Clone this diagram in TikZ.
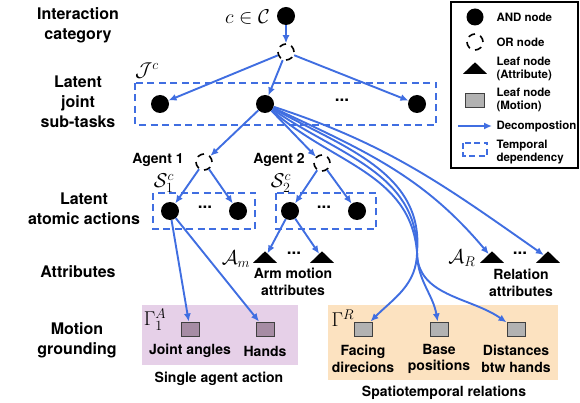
\RequirePackage{fix-cm}
\documentclass[tikz,border=0pt]{standalone}
\usepackage{fontspec}
\setmainfont{TeX Gyre Heros}
\usepackage{xcolor}
\usetikzlibrary{arrows.meta,shapes.geometric}

\definecolor{decblue}{RGB}{64,110,225}
\definecolor{agentbg}{RGB}{230,208,232}
\definecolor{relbg}{RGB}{252,226,192}
\definecolor{agentleaf}{RGB}{166,140,164}
\definecolor{relleaf}{RGB}{178,178,178}

\begin{document}
\begin{tikzpicture}[x=1pt,y=1pt,
    andnode/.style={circle, fill=black, inner sep=0pt, minimum size=18pt},
    ornode/.style={circle, draw=black, line width=1.6pt, dash pattern=on 7pt off 5.5pt,
                   inner sep=0pt, minimum size=16pt},
    attrnode/.style={isosceles triangle, isosceles triangle apex angle=92, shape border rotate=90,
                     fill=black, inner sep=0pt, minimum height=11.5pt},
    leafnode/.style={rectangle, draw=black!75, line width=1pt, inner sep=0pt,
                     minimum width=18pt, minimum height=14pt},
    deco/.style={draw=decblue, line width=1.9pt, -{Latex[length=8pt,width=7pt]}},
    tempdep/.style={draw=decblue, line width=1.7pt, dash pattern=on 7pt off 4.5pt},
    level/.style={font=\fontsize{16}{20}\selectfont\bfseries, align=center},
    txt/.style={font=\fontsize{14}{16.5}\selectfont\bfseries, align=center},
    dotsnode/.style={font=\fontsize{17}{17}\selectfont\bfseries, inner sep=0pt},
    lgd/.style={font=\fontsize{11.5}{13}\selectfont\bfseries, align=left, anchor=west},
    mth/.style={font=\fontsize{20}{22}\selectfont, inner sep=0pt}]

    \useasboundingbox (0,0) rectangle (580,-403);

    % coloured groups
    \fill[agentbg] (142,-305) rectangle (298,-365);
    \fill[relbg] (328,-305) rectangle (558,-380);

    % level names
    \node[level] (lvcat) at (78,-25) {Interaction\\category};
    \node[level] (lvjoint) at (78,-102) {Latent\\joint\\sub-tasks};
    \node[level] (lvatomic) at (84,-209) {Latent\\atomic actions};
    \node[level] (lvattr) at (78,-272) {Attributes};
    \node[level] (lvmotion) at (77,-340) {Motion\\grounding};

    % temporal dependency boxes
    \draw[tempdep] (135,-83) rectangle (436,-125);
    \draw[tempdep] (153,-193) rectangle (255,-229);
    \draw[tempdep] (276,-193) rectangle (376,-229);

    % category
    \node[andnode] (cat) at (286,-16) {};
    \node[mth, anchor=east] (catlbl) at (270,-17) {$c\in\mathcal{C}$};
    \node[ornode] (orC) at (286,-52) {};

    % joint sub-tasks
    \node[mth] (jlbl) at (147,-71) {$\mathcal{J}^c$};
    \node[andnode] (st1) at (160,-104) {};
    \node[andnode] (st2) at (265,-104) {};
    \node[dotsnode] (stdots) at (342,-100) {...};
    \node[andnode] (st4) at (417,-104) {};

    % agents
    \node[ornode] (or1) at (204,-162) {};
    \node[ornode] (or2) at (322,-163) {};
    \node[txt, inner sep=1pt] (ag1) at (158,-160) {Agent 1};
    \node[txt, inner sep=1pt] (ag2) at (279,-160) {Agent 2};
    \node[mth] (s1lbl) at (164,-183) {$\mathcal{S}^c_1$};
    \node[mth] (s2lbl) at (281,-183) {$\mathcal{S}^c_2$};

    % atomic actions
    \node[andnode] (a11) at (170,-211) {};
    \node[dotsnode] (a1dots) at (205,-207) {...};
    \node[andnode] (a12) at (238,-211) {};
    \node[andnode] (a21) at (290,-211) {};
    \node[dotsnode] (a2dots) at (324,-207) {...};
    \node[andnode] (a22) at (357,-211) {};

    % attributes
    \node[mth] (amlbl) at (236,-259) {$\mathcal{A}_m$};
    \node[attrnode] (am1) at (265,-258) {};
    \node[dotsnode] (amdots) at (294,-253) {...};
    \node[attrnode] (am2) at (322,-258) {};
    \node[txt] (amtxt) at (293,-282) {Arm motion\\attributes};
    \node[mth] (arlbl) at (462,-258) {$\mathcal{A}_R$};
    \node[attrnode] (ar1) at (492,-258) {};
    \node[dotsnode] (ardots) at (520,-253) {...};
    \node[attrnode] (ar2) at (548,-258) {};
    \node[txt] (artxt) at (521,-283) {Relation\\attributes};

    % motion grounding
    \node[mth] (galbl) at (155,-320) {$\Gamma^A_1$};
    \node[leafnode, fill=agentleaf] (joint) at (190,-329) {};
    \node[leafnode, fill=agentleaf] (hands) at (265,-329) {};
    \node[txt] (jointtxt) at (190,-351) {Joint angles};
    \node[txt] (handstxt) at (265,-351) {Hands};
    \node[txt] (singletxt) at (219,-379) {Single agent action};
    \node[mth] (grlbl) at (343,-318) {$\Gamma^R$};
    \node[leafnode, fill=relleaf] (facing) at (363,-329) {};
    \node[leafnode, fill=relleaf] (base) at (439,-329) {};
    \node[leafnode, fill=relleaf] (dist) at (516,-329) {};
    \node[txt] (facingtxt) at (363,-359) {Facing\\direcions};
    \node[txt] (basetxt) at (439,-359) {Base\\positions};
    \node[txt] (disttxt) at (516,-359) {Distances\\btw hands};
    \node[txt] (spatiotxt) at (444,-393) {Spatiotemporal relations};

    % decompositions
    \draw[deco] (cat) -- (orC);
    \draw[deco] (orC) -- (st1);
    \draw[deco] (orC) -- (st2);
    \draw[deco] (orC) -- (st4);
    \draw[deco] (st2) -- (or1);
    \draw[deco] (st2) -- (or2);
    \draw[deco] (or1) -- (a11);
    \draw[deco] (or1) -- (a12);
    \draw[deco] (or2) -- (a21);
    \draw[deco] (or2) -- (a22);
    \draw[deco] (a11) -- (joint);
    \draw[deco] (a11) -- (hands);
    \draw[deco] (a21) -- (am1);
    \draw[deco] (a21) -- (am2);
    \draw[deco] (st2) to[out=-18, in=145] (ar2);
    \draw[deco] (st2) to[out=-25, in=130] (ar1);
    \coordinate (merge) at (417,-252);
    \draw[deco] (st2) to[out=-42, in=95] (merge) to[out=-90, in=45] (facing);
    \draw[deco] (st2) to[out=-35, in=90] (merge) to[out=-90, in=100] (base);
    \draw[deco] (st2) to[out=-29, in=85] (merge) to[out=-90, in=145] (dist);

    % legend
    \draw[line width=1.4pt] (451,-2) rectangle (578,-168);
    \node[andnode, minimum size=17pt] (lgand) at (475,-17) {};
    \node[lgd] (lgandtxt) at (493,-17) {AND node};
    \node[ornode] (lgor) at (475,-42) {};
    \node[lgd] (lgortxt) at (493,-42) {OR node};
    \node[attrnode] (lgattr) at (475,-69) {};
    \node[lgd] (lgattrtxt) at (493,-69) {Leaf node\\(Attribute)};
    \node[leafnode, fill=relleaf, minimum width=19pt] (lgleaf) at (475,-101) {};
    \node[lgd] (lgleaftxt) at (493,-100) {Leaf node\\(Motion)};
    \coordinate (lgdecA) at (458,-126);
    \coordinate (lgdecB) at (492,-126);
    \draw[deco] (lgdecA) -- (lgdecB);
    \node[lgd] (lgdectxt) at (493,-126) {Decompostion};
    \draw[tempdep, dash pattern=on 6pt off 3.5pt] (463,-143) rectangle (487,-156);
    \node[lgd] (lgtmptxt) at (493,-152) {Temporal\\dependency};
\end{tikzpicture}
\end{document}
